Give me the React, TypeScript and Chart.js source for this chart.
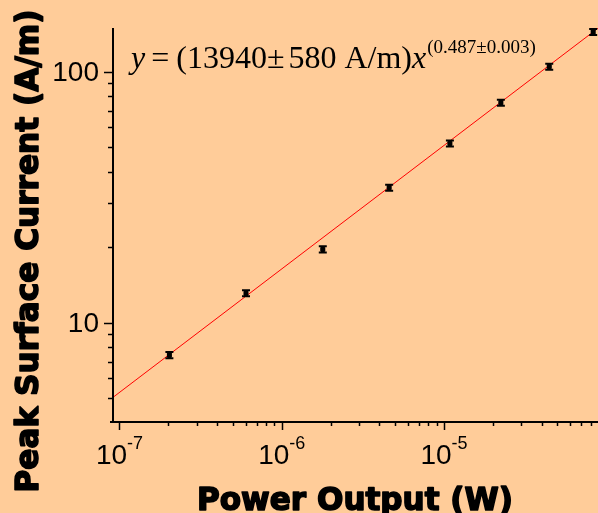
import React, { useEffect, useRef } from "react";
import { Chart, registerables } from "chart.js";

Chart.register(...registerables);

// Data
const powerW = [2.03e-7, 6.02e-7, 1.79e-6, 4.59e-6, 1.087e-5, 2.24e-5, 4.45e-5, 8.3e-5];
const currentAm = [7.43, 13.1, 19.6, 34.5, 51.8, 75.2, 104.7, 143.9];
const currentErr = [0.21, 0.37, 0.55, 0.96, 1.44, 2.1, 2.9, 4.0];
const fitX = [9.12e-8, 8.89e-5];
const fitY = [5.04, 149];
const xMajorExps = [-7, -6, -5];
const yMajorTicks = [10, 100];
const xRange = [9.12e-8, 8.89e-5];
const yRange = [4.02, 149.3];

const BG = "#FFCC99";
const equationMain = [
  { text: "y", italic: true, gap: 0 },
  { text: "=", italic: false, gap: 6 },
  { text: "(13940", italic: false, gap: 7 },
  { text: "±", italic: false, gap: 0 },
  { text: "580", italic: false, gap: 4 },
  { text: "A/m)", italic: false, gap: 8 },
  { text: "x", italic: true, gap: 0 },
];
const equationSup = "(0.487±0.003)";

const decorPlugin = {
  id: "decor",
  beforeDraw(chart: any) {
    const ctx = chart.ctx;
    ctx.save();
    ctx.fillStyle = BG;
    ctx.fillRect(0, 0, chart.width, chart.height);
    ctx.restore();
  },
  afterDatasetsDraw(chart: any) {
    const ctx = chart.ctx;
    const xs = chart.scales.x;
    const ys = chart.scales.y;
    ctx.save();
    ctx.fillStyle = "#000";
    ctx.strokeStyle = "#000";
    for (let i = 0; i < powerW.length; i++) {
      const px = xs.getPixelForValue(powerW[i]);
      const pyTop = ys.getPixelForValue(currentAm[i] + currentErr[i]);
      const pyBot = ys.getPixelForValue(currentAm[i] - currentErr[i]);
      const py = ys.getPixelForValue(currentAm[i]);
      ctx.lineWidth = 2;
      ctx.beginPath();
      ctx.moveTo(px - 4, pyTop);
      ctx.lineTo(px + 4, pyTop);
      ctx.moveTo(px - 4, pyBot);
      ctx.lineTo(px + 4, pyBot);
      ctx.stroke();
      ctx.fillRect(px - 2, pyTop, 4, pyBot - pyTop);
      ctx.fillRect(px - 2.5, py - 2, 5, 4);
    }
    ctx.restore();
  },
  afterDraw(chart: any) {
    const ctx = chart.ctx;
    const xs = chart.scales.x;
    const ys = chart.scales.y;
    const a = chart.chartArea;
    ctx.save();
    ctx.strokeStyle = "#000";
    ctx.fillStyle = "#000";
    // axis lines
    ctx.lineWidth = 2;
    ctx.beginPath();
    ctx.moveTo(a.left, a.top);
    ctx.lineTo(a.left, a.bottom);
    ctx.moveTo(a.left - 3, a.bottom);
    ctx.lineTo(a.right, a.bottom);
    ctx.stroke();

    // x ticks
    ctx.lineWidth = 1.5;
    for (let e = -8; e <= -4; e++) {
      for (let m = 1; m <= 9; m++) {
        const v = m * Math.pow(10, e);
        if (v < xs.min || v > xs.max) continue;
        const px = Math.round(xs.getPixelForValue(v)) + 0.5;
        const len = m === 1 ? 8 : 4;
        ctx.beginPath();
        ctx.moveTo(px, a.bottom);
        ctx.lineTo(px, a.bottom + len);
        ctx.stroke();
      }
    }
    // y ticks
    for (let e = 0; e <= 2; e++) {
      for (let m = 1; m <= 9; m++) {
        const v = m * Math.pow(10, e);
        if (v < ys.min || v > ys.max) continue;
        const py = Math.round(ys.getPixelForValue(v)) + 0.5;
        const len = m === 1 ? 9 : 5;
        ctx.beginPath();
        ctx.moveTo(a.left, py);
        ctx.lineTo(a.left - len, py);
        ctx.stroke();
      }
    }

    // y tick labels
    ctx.font = "28px 'Liberation Sans', Arial, sans-serif";
    ctx.textAlign = "right";
    ctx.textBaseline = "alphabetic";
    for (const v of yMajorTicks) {
      const py = ys.getPixelForValue(v);
      ctx.fillText(String(v), a.left - 14, py + 9);
    }

    // x tick labels 10^e
    for (const e of xMajorExps) {
      const px = xs.getPixelForValue(Math.pow(10, e));
      ctx.font = "28px 'Liberation Sans', Arial, sans-serif";
      const baseW = ctx.measureText("10").width;
      ctx.font = "18px 'Liberation Sans', Arial, sans-serif";
      const supW = ctx.measureText(String(e)).width;
      const start = px - (baseW + supW) / 2;
      ctx.textAlign = "left";
      ctx.font = "28px 'Liberation Sans', Arial, sans-serif";
      ctx.fillText("10", start, 464);
      ctx.font = "18px 'Liberation Sans', Arial, sans-serif";
      ctx.fillText(String(e), start + baseW, 449);
    }

    // axis titles (heavy)
    const titleFont = "bold 32px 'DejaVu Sans', sans-serif";
    ctx.font = titleFont;
    ctx.lineWidth = 1.6;
    ctx.lineJoin = "round";
    const xTitle = "Power Output (W)";
    const xw = ctx.measureText(xTitle).width;
    ctx.save();
    ctx.translate(355, 510);
    ctx.scale(316 / xw, 1);
    ctx.textAlign = "center";
    ctx.fillText(xTitle, 0, 0);
    ctx.strokeText(xTitle, 0, 0);
    ctx.restore();

    const yTitle = "Peak Surface Current (A/m)";
    const yw = ctx.measureText(yTitle).width;
    ctx.save();
    ctx.translate(38, 251);
    ctx.rotate(-Math.PI / 2);
    ctx.scale(483 / yw, 1);
    ctx.textAlign = "center";
    ctx.fillText(yTitle, 0, 0);
    ctx.strokeText(yTitle, 0, 0);
    ctx.restore();

    // equation
    ctx.textAlign = "left";
    let cx = 131;
    for (const seg of equationMain) {
      ctx.font = (seg.italic ? "italic " : "") + "32px 'Liberation Serif', 'Times New Roman', serif";
      cx += seg.gap;
      ctx.fillText(seg.text, cx, 68);
      cx += ctx.measureText(seg.text).width;
    }
    ctx.font = "19px 'Liberation Serif', 'Times New Roman', serif";
    ctx.fillText(equationSup, cx + 1, 53);
    ctx.restore();
  },
};

export default function App() {
  const ref = useRef<HTMLCanvasElement | null>(null);
  useEffect(() => {
    if (!ref.current) return;
    const chart = new Chart(ref.current, {
      type: "scatter",
      data: {
        datasets: [
          {
            label: "fit",
            data: fitX.map((x, i) => ({ x, y: fitY[i] })),
            showLine: true,
            borderColor: "#FF0000",
            borderWidth: 1,
            pointRadius: 0,
            order: 2,
          },
          {
            label: "data",
            data: powerW.map((x, i) => ({ x, y: currentAm[i] })),
            pointRadius: 0,
            order: 1,
          },
        ],
      },
      options: {
        animation: false,
        responsive: false,
        layout: { padding: { left: 113, top: 28, right: 0, bottom: 91 } },
        plugins: { legend: { display: false }, tooltip: { enabled: false } },
        scales: {
          x: { type: "logarithmic", display: false, min: xRange[0], max: xRange[1] },
          y: { type: "logarithmic", display: false, min: yRange[0], max: yRange[1] },
        },
      },
      plugins: [decorPlugin],
    });
    return () => chart.destroy();
  }, []);
  return (
    <div style={{ position: "fixed", left: 0, top: 0, width: 598, height: 513, background: BG }}>
      <canvas ref={ref} width={598} height={513} style={{ display: "block" }} />
    </div>
  );
}
